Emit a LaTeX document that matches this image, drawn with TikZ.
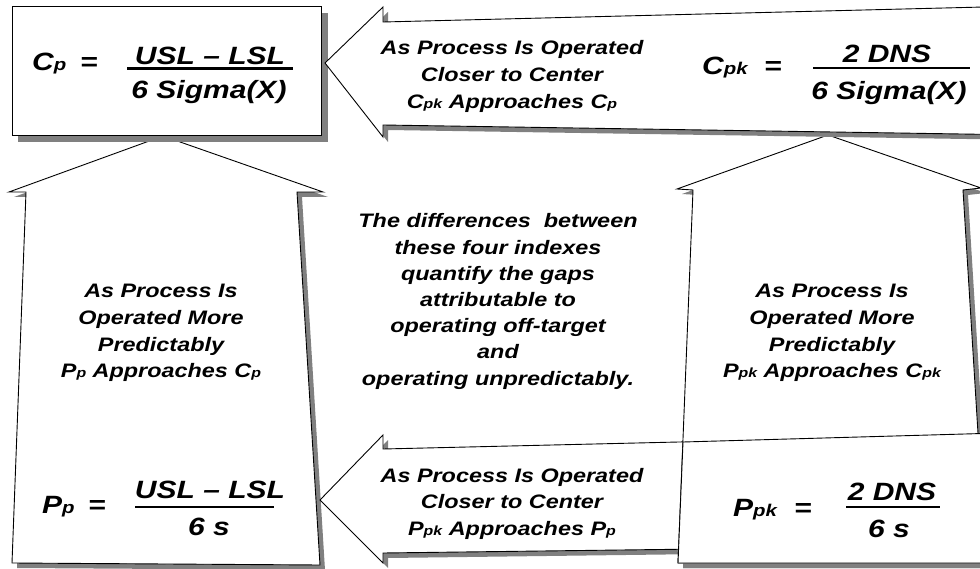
\documentclass[tikz,border=0pt]{standalone}
\usepackage{fontspec}
\usepackage{graphicx}
\newfontfamily\heavy{Liberation Sans}[FakeStretch=1.2]
\newcommand\sbx[1]{\scalebox{0.68}{#1}}
\newcommand\lns[1]{\begin{tabular}[t]{@{}c@{}}#1\end{tabular}}
\definecolor{shadowgray}{RGB}{128,128,128}
\tikzset{
  panel/.style={fill=white, draw=black, line width=0.9pt, line join=miter},
  shadowed/.style={fill=shadowgray, draw=none},
  formtxt/.style={inner sep=0pt, font=\heavy\bfseries\itshape\fontsize{25}{30}\selectfont},
  armtxt/.style={inner sep=0pt, anchor=base, font=\heavy\bfseries\itshape\fontsize{19.5}{26.6}\selectfont},
  fbar/.style={line width=2.7pt}
}
\begin{document}
\begin{tikzpicture}[x=1pt,y=-1pt]
\useasboundingbox (0,0) rectangle (980,569);
\clip (0,0) rectangle (980,569);
\fill[white] (0,0) rectangle (980,569);

% left up arrow (with Pp)
\def\Larrow{(163,136) -- (323,192) -- (297,192) -- (320,565) -- (12,563) -- (26,192) -- (9,192) -- cycle}
\fill[shadowed,shift={(5,5)}] \Larrow;
\draw[panel] \Larrow;

% bottom left-pointing arrow
\def\Barrow{(320,500) -- (383,435) -- (383,449) -- (700,441.5) -- (700,549) -- (383,553) -- (383,563) -- cycle}
\fill[shadowed,shift={(5,5)}] \Barrow;
\draw[panel] \Barrow;

% right up arrow (with Ppk)
\def\Rarrow{(828,135) -- (981,188) -- (963,190) -- (986,563) -- (678,563) -- (693,190) -- (677,189) -- cycle}
\fill[shadowed,shift={(5,5)}] \Rarrow;
\draw[panel] \Rarrow;

% Cp box
\fill[shadowed] (18,13) rectangle (328,142);
\draw[panel] (12,6) rectangle (321,135);

% top left-pointing arrow (with Cpk)
\def\Tarrow{(325,63) -- (383,7) -- (383,22) -- (1000,6.6) -- (1000,134.6) -- (383,125) -- (383,137) -- cycle}
\fill[shadowed,shift={(5,5)}] \Tarrow;
\draw[panel] \Tarrow;

% Ppk box
\def\Pbox{(683,442) -- (1000,433) -- (1000,563) -- (678,563) -- cycle}
\fill[shadowed,shift={(5,5)}] \Pbox;
\draw[panel] \Pbox;

% Cp formula
\node[formtxt, anchor=base west] (cpl) at (32,71) {C\sbx{p}};
\node[formtxt, anchor=base] (cpe) at (89,71) {=};
\node[formtxt, anchor=base] (cpn) at (210,65) {USL – LSL};
\node[formtxt, anchor=base] (cpd) at (209,99) {6 Sigma(X)};
\draw[fbar] (127,68.5) -- (293,68.5);

% Cpk formula
\node[formtxt, anchor=base west] (ckl) at (702,75) {C\sbx{pk}};
\node[formtxt, anchor=base] (cke) at (773,75) {=};
\node[formtxt, anchor=base] (ckn) at (887,63) {2 DNS};
\node[formtxt, anchor=base] (ckd) at (889,100) {6 Sigma(X)};
\draw[fbar] (813,68) -- (970,68);

% Pp formula
\node[formtxt, anchor=base west] (ppl) at (42,513) {P\sbx{p}};
\node[formtxt, anchor=base] (ppe) at (97,513) {=};
\node[formtxt, anchor=base] (ppn) at (210,498) {USL – LSL};
\node[formtxt, anchor=base] (ppd) at (209,535) {6 s};
\draw[fbar] (135,507) -- (274,507);

% Ppk formula
\node[formtxt, anchor=base west] (pkl) at (733,516) {P\sbx{pk}};
\node[formtxt, anchor=base] (pke) at (803,516) {=};
\node[formtxt, anchor=base] (pkn) at (892,500) {2 DNS};
\node[formtxt, anchor=base] (pkd) at (889,537) {6 s};
\draw[fbar] (846,507) -- (940,507);

% arrow texts
\node[armtxt] (ttop) at (512,55) {\lns{As Process Is Operated\\Closer to Center\\C\sbx{pk} Approaches C\sbx{p}}};
\node[armtxt] (tbot) at (512,482) {\lns{As Process Is Operated\\Closer to Center\\P\sbx{pk} Approaches P\sbx{p}}};
\node[armtxt] (tleft) at (161,298) {\lns{As Process Is\\Operated More\\Predictably\\P\sbx{p} Approaches C\sbx{p}}};
\node[armtxt] (tright) at (832,298) {\lns{As Process Is\\Operated More\\Predictably\\P\sbx{pk} Approaches C\sbx{pk}}};
\node[armtxt, font=\heavy\bfseries\itshape\fontsize{19.5}{26.2}\selectfont] (tmid) at (498,228) {\lns{The differences~ between\\these four indexes\\quantify the gaps\\attributable to\\operating off-target\\and\\operating unpredictably.}};
\end{tikzpicture}
\end{document}
